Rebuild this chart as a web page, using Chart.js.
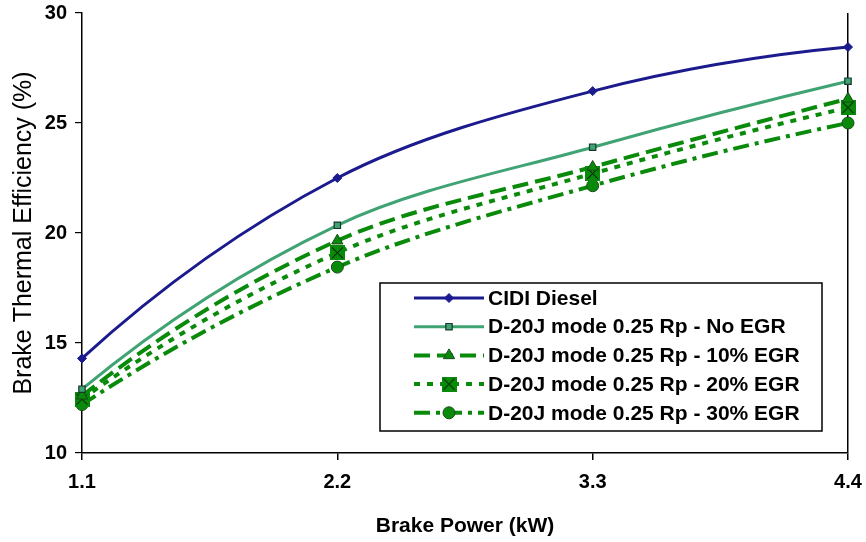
<!DOCTYPE html>
<html>
<head>
<meta charset="utf-8">
<script src="https://cdn.jsdelivr.net/npm/chart.js@4.4.1/dist/chart.umd.min.js"></script>
<style>
  html, body { margin: 0; padding: 0; background: #fff; }
  #wrap { width: 866px; height: 542px; }
</style>
</head>
<body>
<div id="wrap"><canvas id="btChart" width="866" height="542"></canvas></div>
<script>
// data
const powerLabels = ["1.1", "2.2", "3.3", "4.4"];
const cidiDiesel = [14.3, 22.5, 26.45, 28.45];
const noEgr = [12.9, 20.35, 23.9, 26.9];
const egr10 = [12.6, 19.65, 23.0, 26.1];
const egr20 = [12.45, 19.1, 22.7, 25.7];
const egr30 = [12.2, 18.45, 22.15, 25.0];

const seriesNames = [
  "CIDI Diesel",
  "D-20J mode 0.25 Rp - No EGR",
  "D-20J mode 0.25 Rp - 10% EGR",
  "D-20J mode 0.25 Rp - 20% EGR",
  "D-20J mode 0.25 Rp - 30% EGR"
];

const FONT = "'Liberation Sans', Arial, sans-serif";
const GREEN = '#0a8a0a';

// square with a cross for the 20% series
function crossSquare(size) {
  const c = document.createElement('canvas');
  c.width = size; c.height = size;
  const g = c.getContext('2d');
  g.fillStyle = GREEN;
  g.fillRect(0, 0, size, size);
  g.strokeStyle = '#000';
  g.lineWidth = 1;
  g.beginPath();
  g.moveTo(2, 2); g.lineTo(size - 2, size - 2);
  g.moveTo(size - 2, 2); g.lineTo(2, size - 2);
  g.stroke();
  return c;
}
const xMark = crossSquare(15);

// Excel style smoothing: bend the end segments (quadratic end condition)
const excelEnds = {
  id: 'excelEnds',
  beforeDatasetsDraw(chart) {
    chart.data.datasets.forEach((ds, i) => {
      const meta = chart.getDatasetMeta(i);
      const line = meta.dataset;
      if (!line) return;
      line.updateControlPoints(chart.chartArea);
      const p = meta.data;
      const n = p.length;
      if (n < 3) return;
      // first segment
      let qx = p[1].x + 1.5 * (p[1].cp1x - p[1].x);
      let qy = p[1].y + 1.5 * (p[1].cp1y - p[1].y);
      p[0].cp2x = p[0].x + 2 / 3 * (qx - p[0].x);
      p[0].cp2y = p[0].y + 2 / 3 * (qy - p[0].y);
      // last segment
      const a = p[n - 2], b = p[n - 1];
      qx = a.x + 1.5 * (a.cp2x - a.x);
      qy = a.y + 1.5 * (a.cp2y - a.y);
      b.cp1x = b.x + 2 / 3 * (qx - b.x);
      b.cp1y = b.y + 2 / 3 * (qy - b.y);
      line._path = undefined;
    });
  }
};

// legend drawn as a box inside the plot, bottom right
const boxLegend = {
  id: 'boxLegend',
  afterDraw(chart) {
    const { ctx, chartArea } = chart;
    const w = 442, h = 148;
    const x0 = chartArea.right - 26 - w;
    const y0 = chartArea.bottom - 22 - h;
    ctx.save();
    ctx.fillStyle = '#fff';
    ctx.fillRect(x0, y0, w, h);
    ctx.strokeStyle = '#000';
    ctx.lineWidth = 1.5;
    ctx.strokeRect(x0, y0, w, h);
    ctx.font = 'bold 21px ' + FONT;
    ctx.textBaseline = 'middle';
    chart.data.datasets.forEach((ds, i) => {
      const y = y0 + 15 + i * 28.7;
      const lx1 = x0 + 34, lx2 = x0 + 104;
      ctx.strokeStyle = ds.borderColor;
      ctx.lineWidth = ds.borderWidth;
      ctx.setLineDash(ds.borderDash || []);
      ctx.beginPath();
      ctx.moveTo(lx1, y); ctx.lineTo(lx2, y);
      ctx.stroke();
      ctx.setLineDash([]);
      ctx.fillStyle = ds.pointBackgroundColor;
      ctx.strokeStyle = ds.pointBorderColor;
      ctx.lineWidth = ds.pointBorderWidth;
      Chart.helpers.drawPoint(ctx, {
        pointStyle: ds.pointStyle, radius: ds.pointRadius,
        rotation: 0, borderWidth: ds.pointBorderWidth
      }, (lx1 + lx2) / 2, y);
      ctx.fillStyle = '#000';
      ctx.fillText(ds.label, x0 + 108, y + 1);
    });
    ctx.restore();
  }
};

new Chart(document.getElementById('btChart'), {
  type: 'line',
  data: {
    labels: powerLabels,
    datasets: [
      {
        label: seriesNames[0], data: cidiDiesel,
        borderColor: '#1b1b8e', borderWidth: 3,
        pointStyle: 'rectRot', pointRadius: 4.5,
        pointBackgroundColor: '#1b1b8e', pointBorderColor: '#1b1b8e', pointBorderWidth: 1
      },
      {
        label: seriesNames[1], data: noEgr,
        borderColor: '#3fa373', borderWidth: 3,
        pointStyle: 'rect', pointRadius: 4.5,
        pointBackgroundColor: '#3fa373', pointBorderColor: '#17382a', pointBorderWidth: 1.2
      },
      {
        label: seriesNames[2], data: egr10,
        borderColor: GREEN, borderWidth: 4, borderDash: [16, 7],
        pointStyle: 'triangle', pointRadius: 6.5,
        pointBackgroundColor: GREEN, pointBorderColor: '#1a4a1a', pointBorderWidth: 1
      },
      {
        label: seriesNames[3], data: egr20,
        borderColor: GREEN, borderWidth: 4, borderDash: [6, 7],
        pointStyle: xMark, pointRadius: 7.5,
        pointBackgroundColor: GREEN, pointBorderColor: '#000', pointBorderWidth: 1
      },
      {
        label: seriesNames[4], data: egr30,
        borderColor: GREEN, borderWidth: 4, borderDash: [16, 6, 4, 6],
        pointStyle: 'circle', pointRadius: 6,
        pointBackgroundColor: GREEN, pointBorderColor: '#1a4a1a', pointBorderWidth: 1
      }
    ]
  },
  options: {
    responsive: false,
    animation: false,
    layout: { padding: { top: 13, right: 18, left: 0, bottom: 0 } },
    elements: { line: { tension: 0.33, borderCapStyle: 'butt' } },
    plugins: { legend: { display: false }, tooltip: { enabled: false } },
    scales: {
      x: {
        type: 'category',
        offset: false,
        afterFit(s) { s.height = 89; s.paddingLeft = 0; s.paddingRight = 0; },
        grid: {
          drawOnChartArea: true,
          color: c => c.index === powerLabels.length - 1 ? '#000' : 'rgba(0,0,0,0)',
          tickColor: '#000', tickLength: 7, lineWidth: 1.5
        },
        border: { display: true, color: '#000', width: 1.5 },
        ticks: { color: '#000', font: { family: FONT, size: 20, weight: 'bold' }, padding: 10, maxRotation: 0 },
        title: {
          display: true, text: 'Brake Power (kW)', color: '#000',
          font: { family: FONT, size: 21, weight: 'bold' }, padding: { top: 0, bottom: 3 }
        }
      },
      y: {
        min: 10, max: 30,
        afterFit(s) { s.width = 82; s.paddingTop = 0; s.paddingBottom = 0; },
        grid: { drawOnChartArea: false, color: '#000', tickLength: 7, lineWidth: 1.2 },
        border: { display: true, color: '#000', width: 1.5 },
        ticks: { stepSize: 5, color: '#000', font: { family: FONT, size: 20, weight: 'bold' }, padding: 8 },
        title: {
          display: true, text: 'Brake Thermal Efficiency (%)', color: '#000',
          font: { family: FONT, size: 25, weight: 'normal' }, padding: { top: 9, bottom: 0 }
        }
      }
    }
  },
  plugins: [excelEnds, boxLegend]
});
</script>
</body>
</html>
